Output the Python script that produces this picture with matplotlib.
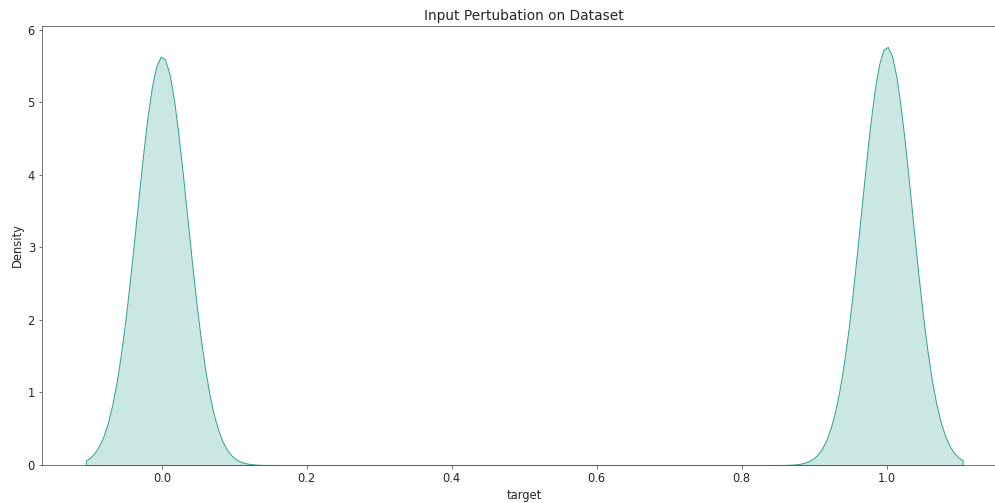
import numpy as np
import matplotlib
matplotlib.use("Agg")
import matplotlib.pyplot as plt
import seaborn as sns

# binary target: how many rows of each class
target_values = [0, 1]
target_counts = [294000, 301000]

line_color = "#32a393"

plt.rcParams["font.size"] = 11.5
plt.rcParams["axes.edgecolor"] = "#555555"
plt.rcParams["xtick.color"] = "#555555"
plt.rcParams["ytick.color"] = "#555555"
plt.rcParams["xtick.labelcolor"] = "#262626"
plt.rcParams["ytick.labelcolor"] = "#262626"
plt.rcParams["text.color"] = "#262626"
plt.rcParams["axes.labelcolor"] = "#262626"

target = np.repeat(target_values, target_counts)

fig = plt.figure(figsize=(995 / 72, 503 / 72), dpi=72)
ax = fig.add_axes([42 / 995, 1 - 465 / 503, 964.5 / 995, 439 / 503])
sns.kdeplot(x=target, fill=True, color=line_color, ax=ax)
ax.set_title("Input Pertubation on Dataset")
ax.set_xlabel("target")
ax.set_ylabel("Density")

fig.savefig("out.png", dpi=72)
